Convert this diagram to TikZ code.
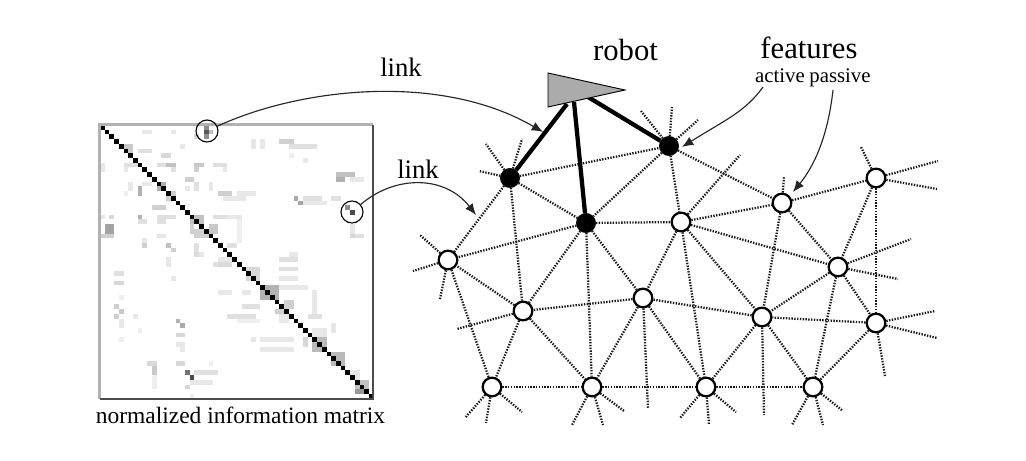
\documentclass[tikz,border=0pt]{standalone}
\usepackage{fontspec}
\setmainfont{Liberation Serif}
\usetikzlibrary{arrows.meta}
\tikzstyle{active} = [draw, circle, fill=black, inner sep=0pt, minimum size=14.5pt]
\tikzstyle{passive} = [draw, circle, fill=white, line width=1.7pt, inner sep=0pt, minimum size=14pt]
\tikzstyle{edge} = [line width=1.7pt, dash pattern=on 1.05pt off 1.05pt, black!90]
\tikzstyle{leg} = [line width=3.2pt]
\tikzstyle{pointer} = [-{Latex[length=8.5pt,width=7pt]}, line width=0.85pt, black!85]
\tikzstyle{marker} = [draw, circle, line width=0.85pt, inner sep=0pt, minimum size=16.5pt]
\tikzstyle{label} = [anchor=base, inner sep=0pt]
\begin{document}
\begin{tikzpicture}[x=0.75pt,y=-0.75pt]
    \useasboundingbox (0,0) rectangle (1026,461);
    \fill [white] (0,0) rectangle (1026,461);

    % information matrix
    \begin{scope}[shift={(100,125)},x=3.54pt,y=-3.54pt]
        \foreach \c/\r/\w/\h/\g in {9/1/2/1/15,15/1/1/1/15,20/2/1/1/25,17/4/1/1/15,32/3/1/2/15,34/3/1/2/15,38/3/3/1/30,40/4/6/1/20,13/6/2/1/25,8/5/3/1/20,40/6/1/1/10,43/7/1/1/15,
            5/8/3/1/20,12/8/2/1/20,14/8/2/1/40,20/8/2/1/35,20/9/1/1/30,24/8/3/1/20,26/9/1/1/15,15/9/1/1/20,0/8/1/2/15,5/9/1/1/15,50/10/4/1/40,53/11/3/1/15,50/11/2/1/50,
            18/11/2/1/30,6/12/1/2/15,9/12/2/1/15,20/12/1/2/20,23/12/1/2/15,18/13/1/1/15,8/13/1/2/50,25/14/3/1/30,29/14/3/1/15,26/15/5/1/15,32/14/1/1/15,5/14/1/1/10,
            41/15/1/1/55,42/16/1/1/60,43/15/4/1/20,43/16/5/1/15,49/15/2/1/20,11/17/3/1/30,8/19/1/1/50,8/20/2/1/20,12/19/4/1/20,12/20/2/1/20,0/19/1/1/15,2/19/1/1/25,24/19/3/1/20,27/19/3/1/15,29/20/1/5/10,
            1/21/2/2/60,0/23/3/1/30,53/21/1/3/15,53/23/3/1/20,12/23/2/1/15,9/24/1/2/15,9/25/1/1/25,14/25/1/1/40,15/26/1/1/30,20/25/1/3/20,20/27/2/1/15,
            14/28/1/2/15,40/27/2/1/15,38/28/4/1/20,38/30/4/1/20,38/32/4/1/15,38/34/6/1/15,24/29/4/1/20,3/31/2/1/20,3/33/2/1/25,15/32/1/1/15,4/36/1/1/10,25/35/3/1/15,30/35/2/1/15,
            3/38/1/1/30,4/39/1/1/35,3/40/1/1/30,7/40/1/1/15,4/41/1/2/15,4/45/1/1/10,8/43/1/1/10,45/35/1/5/15,27/40/6/1/20,30/38/4/1/20,29/41/5/1/10,44/40/3/1/20,
            16/41/1/1/50,17/42/1/1/55,16/44/2/1/25,16/46/2/1/15,17/47/1/1/15,16/50/2/1/25,34/45/7/1/15,34/47/7/1/15,32/45/1/1/15,43/45/1/2/25,49/42/1/2/15,
            10/50/2/1/25,11/51/1/2/35,11/53/1/3/10,23/50/1/1/10,20/52/5/1/20,19/54/5/1/15,18/55/1/1/25,19/57/1/1/10,
            5/4/2/2/35,12/12/2/2/50,14/14/2/2/30,19/19/3/2/40,23/21/2/2/35,20/22/3/2/30,19/21/1/2/30,27/25/2/1/20,31/30/3/3/25,25/28/3/2/15,34/34/4/3/50,39/37/2/2/30,37/39/2/1/30,38/40/2/2/15,
            45/43/3/2/15,45/45/3/3/45,49/48/3/3/45,53/52/2/2/15,54/54/3/3/40,54/56/3/1/50}
            \fill [black!\g, fill opacity=0.6] (\c,\r) rectangle ++(\w,\h);
        \foreach \c/\r/\g in {22/0/45,22/1/65,22/2/45,23/1/25,52/17/45,53/18/70,18/52/55,19/53/70}
            \fill [black!\g] (\c,\r) rectangle ++(1,1);
        \foreach \i in {0,...,57}
            \fill [black] (\i,\i) rectangle ++(1,1);
    \end{scope}
    \draw [line width=1.8pt, black!30] (99.5,399) -- (99.5,124.5) -- (373,124.5);
    \draw [line width=1.8pt, black!70] (373,124.5) -- (373,399) -- (99.5,399);

    \node [marker] (markerA) at (207,131) {};
    \node [marker] (markerB) at (352,212) {};
    \node [label] (caption) at (240.5,423) {\fontsize{17.6pt}{20pt}\selectfont normalized information matrix};

    % features
    \node [active] (a1) at (510,178) {};
    \node [active] (a2) at (669,146) {};
    \node [active] (a3) at (586,223) {};
    \node [passive] (p1) at (681,222) {};
    \node [passive] (p2) at (782,203) {};
    \node [passive] (p3) at (876,178) {};
    \node [passive] (p4) at (838,267) {};
    \node [passive] (p5) at (876,323) {};
    \node [passive] (p6) at (762,317) {};
    \node [passive] (p7) at (643,298) {};
    \node [passive] (p8) at (523,311) {};
    \node [passive] (p9) at (448,260) {};
    \node [passive] (p10) at (492,387) {};
    \node [passive] (p11) at (592,387) {};
    \node [passive] (p12) at (706,387) {};
    \node [passive] (p13) at (813,387) {};

    \foreach \from/\to in {a1/a2,a1/a3,a1/p8,a1/p9,a2/a3,a2/p1,a2/p2,a3/p1,a3/p7,a3/p8,a3/p9,a3/p11,
        p1/p2,p1/p4,p1/p7,p1/p6,p1/p12,p2/p3,p2/p4,p2/p6,p3/p4,p3/p5,p4/p5,p4/p6,p4/p13,
        p5/p6,p5/p13,p6/p7,p6/p12,p6/p13,p7/p8,p7/p11,p7/p12,p8/p9,p8/p10,p8/p11,p9/p10,
        p10/p11,p11/p12,p12/p13}
        \draw [edge] (\from) -- (\to);

    % loose ends
    \foreach \from/\x/\y in {a1/486/144,a1/522/139,a1/479/171,a2/641/111,a2/672/107,a2/698/120,p1/740/155,p2/784/177,
        p3/861/147,p3/938/161,p3/937/189,p4/911/239,p4/898/279,p5/935/311,p5/937/338,p5/885/376,p6/764/415,
        p7/648/408,p8/457/329,p9/420/235,p9/413/271,p9/440/299,p10/465/418,p10/486/423,p10/522/412,
        p11/572/425,p11/603/425,p11/624/411,p12/680/418,p12/709/425,p12/736/412,p13/792/425,p13/823/425,p13/843/411} {
        \coordinate (loose) at (\x,\y);
        \draw [edge] (\from) -- (loose);
    }

    % robot
    \coordinate (rear1) at (548,73);
    \coordinate (nose) at (625,90);
    \coordinate (rear2) at (548,107);
    \coordinate (hip1) at (567,104);
    \coordinate (hip2) at (574,102);
    \coordinate (hip3) at (588,97);
    \draw [leg] (a1) -- (hip1);
    \draw [leg] (a3) -- (hip2);
    \draw [leg] (a2) -- (hip3);
    \draw [fill=black!33, line width=0.7pt] (rear1) -- (nose) -- (rear2) -- cycle;

    % labels and pointers
    \node [label] (robot) at (625.5,60) {\fontsize{23pt}{26pt}\selectfont robot};
    \node [label] (features) at (809,58) {\fontsize{23pt}{26pt}\selectfont features};
    \node [label] (active) at (780,82) {\fontsize{15.6pt}{18pt}\selectfont active};
    \node [label] (passive) at (840,82) {\fontsize{15.6pt}{18pt}\selectfont passive};
    \node [label] (linkA) at (401,76) {\fontsize{20pt}{23pt}\selectfont link};
    \node [label] (linkB) at (418,178) {\fontsize{20pt}{23pt}\selectfont link};

    \coordinate (tipA) at (543,132);
    \coordinate (tipB) at (476,215);
    \coordinate (tipC) at (682,147);
    \coordinate (tipD) at (793,192);
    \coordinate (fromC) at (763,87);
    \coordinate (fromD) at (833,90);
    \draw [pointer] (markerA) .. controls (300,88) and (440,72) .. (tipA);
    \draw [pointer] (markerB) .. controls (395,175) and (445,175) .. (tipB);
    \draw [pointer] (fromC) .. controls (745,112) and (725,120) .. (tipC);
    \draw [pointer] (fromD) .. controls (828,135) and (815,165) .. (tipD);
\end{tikzpicture}
\end{document}
